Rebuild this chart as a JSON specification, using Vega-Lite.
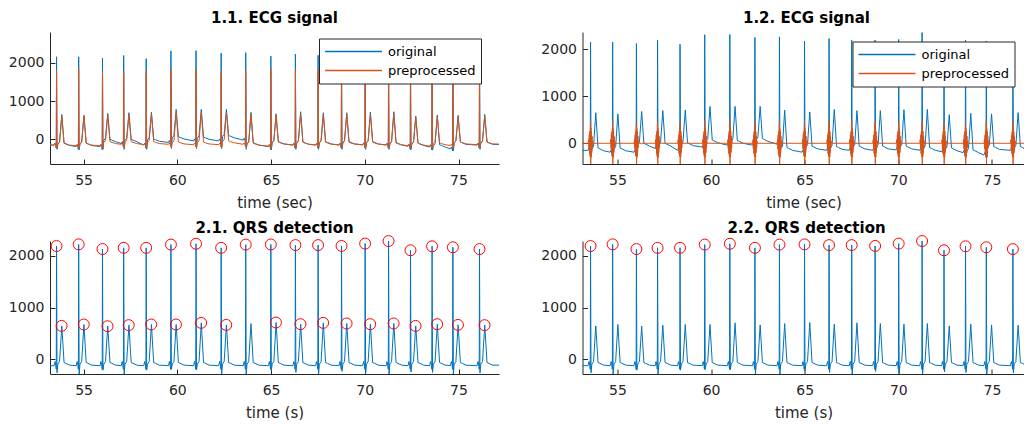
{
"$schema": "https://vega.github.io/schema/vega-lite/v6.json",
"background": "white",
"padding": {"left": 8, "top": 11, "right": 0, "bottom": 0},
"datasets": {
"ecg": [
{"t":53.1,"o":-150,"p":-150,"q":-120},
{"t":53.43,"o":-150,"p":-150,"q":-120},{"t":53.48,"o":-100,"p":-110,"q":-40},{"t":53.52,"o":-150,"p":-150,"q":-115},{"t":53.545,"o":-230,"p":-210,"q":-190},{"t":53.56,"o":2160,"p":1800,"q":2183},{"t":53.585,"o":-260,"p":-220,"q":-257},{"t":53.63,"o":-130,"p":-120,"q":-90},{"t":53.72,"o":-70,"p":-70,"q":-40},{"t":53.84,"o":650,"p":600,"q":646},{"t":53.96,"o":-100,"p":-100,"q":-60},{"t":54.06,"o":-120,"p":-120,"q":-75},{"t":54.26,"o":-160,"p":-150,"q":-110},
{"t":54.61,"o":-190,"p":-170,"q":-120},{"t":54.66,"o":-140,"p":-130,"q":-40},{"t":54.70,"o":-190,"p":-170,"q":-115},{"t":54.725,"o":-270,"p":-230,"q":-190},{"t":54.74,"o":2160,"p":1843,"q":2215},{"t":54.765,"o":-270,"p":-230,"q":-280},{"t":54.81,"o":-130,"p":-120,"q":-90},{"t":54.90,"o":-70,"p":-70,"q":-40},{"t":55.02,"o":627,"p":620,"q":673},{"t":55.14,"o":-100,"p":-100,"q":-60},{"t":55.24,"o":-120,"p":-120,"q":-75},{"t":55.44,"o":-160,"p":-150,"q":-110},
{"t":55.88,"o":-190,"p":-170,"q":-120},{"t":55.93,"o":-140,"p":-130,"q":-40},{"t":55.97,"o":-190,"p":-170,"q":-115},{"t":55.995,"o":-270,"p":-230,"q":-190},{"t":56.01,"o":2125,"p":1775,"q":2125},{"t":56.035,"o":-260,"p":-220,"q":-206},{"t":56.08,"o":-30,"p":-80,"q":-90},{"t":56.17,"o":30,"p":-30,"q":-40},{"t":56.29,"o":678,"p":630,"q":640},{"t":56.41,"o":0,"p":-60,"q":-60},{"t":56.51,"o":-20,"p":-80,"q":-75},{"t":56.71,"o":-60,"p":-110,"q":-110},
{"t":57.01,"o":-110,"p":-130,"q":-120},{"t":57.06,"o":-60,"p":-90,"q":-40},{"t":57.10,"o":-110,"p":-130,"q":-115},{"t":57.125,"o":-190,"p":-190,"q":-190},{"t":57.14,"o":2195,"p":1790,"q":2148},{"t":57.165,"o":-260,"p":-220,"q":-280},{"t":57.21,"o":-30,"p":-80,"q":-90},{"t":57.30,"o":30,"p":-30,"q":-40},{"t":57.42,"o":697,"p":650,"q":660},{"t":57.54,"o":0,"p":-60,"q":-60},{"t":57.64,"o":-20,"p":-80,"q":-75},{"t":57.84,"o":-60,"p":-110,"q":-110},
{"t":58.21,"o":-150,"p":-140,"q":-120},{"t":58.26,"o":-100,"p":-100,"q":-40},{"t":58.30,"o":-150,"p":-140,"q":-115},{"t":58.325,"o":-230,"p":-200,"q":-190},{"t":58.34,"o":2110,"p":1790,"q":2148},{"t":58.365,"o":-260,"p":-220,"q":-206},{"t":58.41,"o":-20,"p":-80,"q":-90},{"t":58.50,"o":40,"p":-30,"q":-40},{"t":58.62,"o":710,"p":660,"q":673},{"t":58.74,"o":10,"p":-60,"q":-60},{"t":58.84,"o":-10,"p":-80,"q":-75},{"t":59.04,"o":-50,"p":-110,"q":-110},
{"t":59.53,"o":-80,"p":-130,"q":-120},{"t":59.58,"o":-30,"p":-90,"q":-40},{"t":59.62,"o":-80,"p":-130,"q":-115},{"t":59.645,"o":-160,"p":-190,"q":-190},{"t":59.66,"o":2315,"p":1843,"q":2211},{"t":59.685,"o":-240,"p":-220,"q":-190},{"t":59.73,"o":40,"p":-90,"q":-90},{"t":59.82,"o":100,"p":-40,"q":-40},{"t":59.94,"o":783,"p":700,"q":673},{"t":60.06,"o":70,"p":-70,"q":-60},{"t":60.16,"o":50,"p":-90,"q":-75},{"t":60.36,"o":10,"p":-120,"q":-110},
{"t":60.87,"o":-40,"p":-140,"q":-120},{"t":60.92,"o":10,"p":-100,"q":-40},{"t":60.96,"o":-40,"p":-140,"q":-115},{"t":60.985,"o":-120,"p":-200,"q":-190},{"t":61.00,"o":2320,"p":1843,"q":2227},{"t":61.025,"o":-240,"p":-220,"q":-200},{"t":61.07,"o":30,"p":-90,"q":-90},{"t":61.16,"o":90,"p":-40,"q":-40},{"t":61.28,"o":786,"p":700,"q":704},{"t":61.40,"o":60,"p":-70,"q":-60},{"t":61.50,"o":40,"p":-90,"q":-75},{"t":61.70,"o":0,"p":-120,"q":-110},
{"t":62.21,"o":-40,"p":-140,"q":-120},{"t":62.26,"o":10,"p":-100,"q":-40},{"t":62.30,"o":-40,"p":-140,"q":-115},{"t":62.325,"o":-120,"p":-200,"q":-190},{"t":62.34,"o":2255,"p":1775,"q":2148},{"t":62.365,"o":-240,"p":-220,"q":-280},{"t":62.41,"o":70,"p":-60,"q":-90},{"t":62.50,"o":130,"p":-10,"q":-40},{"t":62.62,"o":786,"p":710,"q":665},{"t":62.74,"o":100,"p":-40,"q":-60},{"t":62.84,"o":80,"p":-60,"q":-75},{"t":63.04,"o":40,"p":-90,"q":-110},
{"t":63.52,"o":-20,"p":-130,"q":-120},{"t":63.57,"o":30,"p":-90,"q":-40},{"t":63.61,"o":-20,"p":-130,"q":-115},{"t":63.635,"o":-100,"p":-190,"q":-190},{"t":63.65,"o":2268,"p":1800,"q":2211},{"t":63.675,"o":-260,"p":-220,"q":-280},{"t":63.72,"o":-120,"p":-120,"q":-90},{"t":63.81,"o":-60,"p":-70,"q":-40},{"t":63.93,"o":705,"p":650,"q":690},{"t":64.05,"o":-90,"p":-100,"q":-60},{"t":64.15,"o":-110,"p":-120,"q":-75},{"t":64.35,"o":-150,"p":-150,"q":-110},
{"t":64.86,"o":-190,"p":-180,"q":-120},{"t":64.91,"o":-140,"p":-140,"q":-40},{"t":64.95,"o":-190,"p":-180,"q":-115},{"t":64.975,"o":-270,"p":-240,"q":-190},{"t":64.99,"o":2177,"p":1843,"q":2214},{"t":65.015,"o":-270,"p":-230,"q":-220},{"t":65.06,"o":-90,"p":-90,"q":-90},{"t":65.15,"o":-30,"p":-40,"q":-40},{"t":65.27,"o":668,"p":620,"q":711},{"t":65.39,"o":-60,"p":-70,"q":-60},{"t":65.49,"o":-80,"p":-90,"q":-75},{"t":65.69,"o":-120,"p":-120,"q":-110},
{"t":66.17,"o":-150,"p":-150,"q":-120},{"t":66.22,"o":-100,"p":-110,"q":-40},{"t":66.26,"o":-150,"p":-150,"q":-115},{"t":66.285,"o":-230,"p":-210,"q":-190},{"t":66.30,"o":2232,"p":1826,"q":2201},{"t":66.325,"o":-260,"p":-220,"q":-250},{"t":66.37,"o":-100,"p":-95,"q":-90},{"t":66.46,"o":-40,"p":-45,"q":-40},{"t":66.58,"o":722,"p":670,"q":679},{"t":66.70,"o":-70,"p":-75,"q":-60},{"t":66.80,"o":-90,"p":-95,"q":-75},{"t":67.00,"o":-130,"p":-125,"q":-110},
{"t":67.38,"o":-150,"p":-145,"q":-120},{"t":67.43,"o":-100,"p":-105,"q":-40},{"t":67.47,"o":-150,"p":-145,"q":-115},{"t":67.495,"o":-230,"p":-205,"q":-190},{"t":67.51,"o":2200,"p":1810,"q":2201},{"t":67.535,"o":-260,"p":-220,"q":-280},{"t":67.58,"o":-90,"p":-95,"q":-90},{"t":67.67,"o":-30,"p":-45,"q":-40},{"t":67.79,"o":696,"p":650,"q":704},{"t":67.91,"o":-60,"p":-75,"q":-60},{"t":68.01,"o":-80,"p":-95,"q":-75},{"t":68.21,"o":-120,"p":-125,"q":-110},
{"t":68.63,"o":-150,"p":-145,"q":-120},{"t":68.68,"o":-100,"p":-105,"q":-40},{"t":68.72,"o":-150,"p":-145,"q":-115},{"t":68.745,"o":-230,"p":-205,"q":-190},{"t":68.76,"o":2200,"p":1800,"q":2185},{"t":68.785,"o":-260,"p":-220,"q":-230},{"t":68.83,"o":-90,"p":-95,"q":-90},{"t":68.92,"o":-30,"p":-45,"q":-40},{"t":69.04,"o":696,"p":650,"q":692},{"t":69.16,"o":-60,"p":-75,"q":-60},{"t":69.26,"o":-80,"p":-95,"q":-75},{"t":69.46,"o":-120,"p":-125,"q":-110},
{"t":69.89,"o":-140,"p":-145,"q":-120},{"t":69.94,"o":-90,"p":-105,"q":-40},{"t":69.98,"o":-140,"p":-145,"q":-115},{"t":70.005,"o":-220,"p":-205,"q":-190},{"t":70.02,"o":2214,"p":1810,"q":2230},{"t":70.045,"o":-260,"p":-220,"q":-270},{"t":70.09,"o":-90,"p":-95,"q":-90},{"t":70.18,"o":-30,"p":-45,"q":-40},{"t":70.30,"o":714,"p":660,"q":679},{"t":70.42,"o":-60,"p":-75,"q":-60},{"t":70.52,"o":-80,"p":-95,"q":-75},{"t":70.72,"o":-120,"p":-125,"q":-110},
{"t":71.14,"o":-150,"p":-145,"q":-120},{"t":71.19,"o":-100,"p":-105,"q":-40},{"t":71.23,"o":-150,"p":-145,"q":-115},{"t":71.255,"o":-230,"p":-205,"q":-190},{"t":71.27,"o":2360,"p":1850,"q":2279},{"t":71.295,"o":-260,"p":-220,"q":-280},{"t":71.34,"o":-120,"p":-110,"q":-90},{"t":71.43,"o":-60,"p":-60,"q":-40},{"t":71.55,"o":722,"p":670,"q":692},{"t":71.67,"o":-90,"p":-90,"q":-60},{"t":71.77,"o":-110,"p":-110,"q":-75},{"t":71.97,"o":-150,"p":-140,"q":-110},
{"t":72.31,"o":-180,"p":-170,"q":-120},{"t":72.36,"o":-130,"p":-130,"q":-40},{"t":72.40,"o":-180,"p":-170,"q":-115},{"t":72.425,"o":-260,"p":-230,"q":-190},{"t":72.44,"o":2150,"p":1780,"q":2101},{"t":72.465,"o":-270,"p":-230,"q":-240},{"t":72.51,"o":-130,"p":-120,"q":-90},{"t":72.60,"o":-70,"p":-70,"q":-40},{"t":72.72,"o":610,"p":570,"q":646},{"t":72.84,"o":-100,"p":-100,"q":-60},{"t":72.94,"o":-120,"p":-120,"q":-75},{"t":73.14,"o":-160,"p":-150,"q":-110},
{"t":73.46,"o":-200,"p":-180,"q":-120},{"t":73.51,"o":-150,"p":-140,"q":-40},{"t":73.55,"o":-200,"p":-180,"q":-115},{"t":73.575,"o":-280,"p":-240,"q":-190},{"t":73.59,"o":2200,"p":1800,"q":2178},{"t":73.615,"o":-280,"p":-230,"q":-250},{"t":73.66,"o":-170,"p":-110,"q":-90},{"t":73.75,"o":-110,"p":-60,"q":-40},{"t":73.87,"o":636,"p":590,"q":679},{"t":73.99,"o":-140,"p":-90,"q":-60},{"t":74.09,"o":-160,"p":-110,"q":-75},{"t":74.29,"o":-200,"p":-140,"q":-110},
{"t":74.57,"o":-250,"p":-160,"q":-120},{"t":74.62,"o":-200,"p":-120,"q":-40},{"t":74.66,"o":-250,"p":-160,"q":-115},{"t":74.685,"o":-300,"p":-220,"q":-190},{"t":74.70,"o":2180,"p":1790,"q":2159},{"t":74.725,"o":-300,"p":-230,"q":-280},{"t":74.77,"o":-100,"p":-90,"q":-90},{"t":74.86,"o":-40,"p":-40,"q":-40},{"t":74.98,"o":627,"p":580,"q":665},{"t":75.10,"o":-70,"p":-70,"q":-60},{"t":75.20,"o":-90,"p":-90,"q":-75},{"t":75.40,"o":-130,"p":-120,"q":-110},
{"t":75.99,"o":-150,"p":-140,"q":-120},{"t":76.04,"o":-100,"p":-100,"q":-40},{"t":76.08,"o":-150,"p":-140,"q":-115},{"t":76.105,"o":-230,"p":-200,"q":-190},{"t":76.12,"o":2150,"p":1790,"q":2124},{"t":76.145,"o":-260,"p":-220,"q":-260},{"t":76.19,"o":-100,"p":-90,"q":-90},{"t":76.28,"o":-40,"p":-40,"q":-40},{"t":76.40,"o":653,"p":610,"q":660},{"t":76.52,"o":-70,"p":-70,"q":-60},{"t":76.62,"o":-90,"p":-90,"q":-75},{"t":76.82,"o":-130,"p":-120,"q":-110},
{"t":77.3,"o":-140,"p":-125,"q":-110}
],
"bp": [
{"t":53.0,"v":0},
{"t":53.44,"v":0},{"t":53.46,"v":80},{"t":53.475,"v":-120},{"t":53.49,"v":180},{"t":53.505,"v":-220},{"t":53.52,"v":250},{"t":53.535,"v":-280},{"t":53.548,"v":300},{"t":53.56,"v":470},{"t":53.57,"v":-440},{"t":53.582,"v":320},{"t":53.595,"v":-300},{"t":53.61,"v":250},{"t":53.625,"v":-200},{"t":53.64,"v":150},{"t":53.655,"v":-100},{"t":53.67,"v":50},{"t":53.685,"v":0},
{"t":54.62,"v":0},{"t":54.64,"v":80},{"t":54.655,"v":-120},{"t":54.67,"v":180},{"t":54.685,"v":-220},{"t":54.70,"v":250},{"t":54.715,"v":-280},{"t":54.728,"v":300},{"t":54.74,"v":470},{"t":54.75,"v":-440},{"t":54.762,"v":320},{"t":54.775,"v":-300},{"t":54.79,"v":250},{"t":54.805,"v":-200},{"t":54.82,"v":150},{"t":54.835,"v":-100},{"t":54.85,"v":50},{"t":54.865,"v":0},
{"t":55.89,"v":0},{"t":55.91,"v":80},{"t":55.925,"v":-120},{"t":55.94,"v":180},{"t":55.955,"v":-220},{"t":55.97,"v":250},{"t":55.985,"v":-280},{"t":55.998,"v":300},{"t":56.01,"v":440},{"t":56.02,"v":-440},{"t":56.032,"v":320},{"t":56.045,"v":-300},{"t":56.06,"v":250},{"t":56.075,"v":-200},{"t":56.09,"v":150},{"t":56.105,"v":-100},{"t":56.12,"v":50},{"t":56.135,"v":0},
{"t":57.02,"v":0},{"t":57.04,"v":80},{"t":57.055,"v":-120},{"t":57.07,"v":180},{"t":57.085,"v":-220},{"t":57.10,"v":250},{"t":57.115,"v":-280},{"t":57.128,"v":300},{"t":57.14,"v":470},{"t":57.15,"v":-440},{"t":57.162,"v":320},{"t":57.175,"v":-300},{"t":57.19,"v":250},{"t":57.205,"v":-200},{"t":57.22,"v":150},{"t":57.235,"v":-100},{"t":57.25,"v":50},{"t":57.265,"v":0},
{"t":58.22,"v":0},{"t":58.24,"v":80},{"t":58.255,"v":-120},{"t":58.27,"v":180},{"t":58.285,"v":-220},{"t":58.30,"v":250},{"t":58.315,"v":-280},{"t":58.328,"v":300},{"t":58.34,"v":450},{"t":58.35,"v":-440},{"t":58.362,"v":320},{"t":58.375,"v":-300},{"t":58.39,"v":250},{"t":58.405,"v":-200},{"t":58.42,"v":150},{"t":58.435,"v":-100},{"t":58.45,"v":50},{"t":58.465,"v":0},
{"t":59.54,"v":0},{"t":59.56,"v":80},{"t":59.575,"v":-120},{"t":59.59,"v":180},{"t":59.605,"v":-220},{"t":59.62,"v":250},{"t":59.635,"v":-280},{"t":59.648,"v":300},{"t":59.66,"v":480},{"t":59.67,"v":-440},{"t":59.682,"v":320},{"t":59.695,"v":-300},{"t":59.71,"v":250},{"t":59.725,"v":-200},{"t":59.74,"v":150},{"t":59.755,"v":-100},{"t":59.77,"v":50},{"t":59.785,"v":0},
{"t":60.88,"v":0},{"t":60.90,"v":80},{"t":60.915,"v":-120},{"t":60.93,"v":180},{"t":60.945,"v":-220},{"t":60.96,"v":250},{"t":60.975,"v":-280},{"t":60.988,"v":300},{"t":61.00,"v":480},{"t":61.01,"v":-440},{"t":61.022,"v":320},{"t":61.035,"v":-300},{"t":61.05,"v":250},{"t":61.065,"v":-200},{"t":61.08,"v":150},{"t":61.095,"v":-100},{"t":61.11,"v":50},{"t":61.125,"v":0},
{"t":62.22,"v":0},{"t":62.24,"v":80},{"t":62.255,"v":-120},{"t":62.27,"v":180},{"t":62.285,"v":-220},{"t":62.30,"v":250},{"t":62.315,"v":-280},{"t":62.328,"v":300},{"t":62.34,"v":460},{"t":62.35,"v":-440},{"t":62.362,"v":320},{"t":62.375,"v":-300},{"t":62.39,"v":250},{"t":62.405,"v":-200},{"t":62.42,"v":150},{"t":62.435,"v":-100},{"t":62.45,"v":50},{"t":62.465,"v":0},
{"t":63.53,"v":0},{"t":63.55,"v":80},{"t":63.565,"v":-120},{"t":63.58,"v":180},{"t":63.595,"v":-220},{"t":63.61,"v":250},{"t":63.625,"v":-280},{"t":63.638,"v":300},{"t":63.65,"v":470},{"t":63.66,"v":-440},{"t":63.672,"v":320},{"t":63.685,"v":-300},{"t":63.70,"v":250},{"t":63.715,"v":-200},{"t":63.73,"v":150},{"t":63.745,"v":-100},{"t":63.76,"v":50},{"t":63.775,"v":0},
{"t":64.87,"v":0},{"t":64.89,"v":80},{"t":64.905,"v":-120},{"t":64.92,"v":180},{"t":64.935,"v":-220},{"t":64.95,"v":250},{"t":64.965,"v":-280},{"t":64.978,"v":300},{"t":64.99,"v":470},{"t":65.00,"v":-440},{"t":65.012,"v":320},{"t":65.025,"v":-300},{"t":65.04,"v":250},{"t":65.055,"v":-200},{"t":65.07,"v":150},{"t":65.085,"v":-100},{"t":65.10,"v":50},{"t":65.115,"v":0},
{"t":66.18,"v":0},{"t":66.20,"v":80},{"t":66.215,"v":-120},{"t":66.23,"v":180},{"t":66.245,"v":-220},{"t":66.26,"v":250},{"t":66.275,"v":-280},{"t":66.288,"v":300},{"t":66.30,"v":470},{"t":66.31,"v":-440},{"t":66.322,"v":320},{"t":66.335,"v":-300},{"t":66.35,"v":250},{"t":66.365,"v":-200},{"t":66.38,"v":150},{"t":66.395,"v":-100},{"t":66.41,"v":50},{"t":66.425,"v":0},
{"t":67.39,"v":0},{"t":67.41,"v":80},{"t":67.425,"v":-120},{"t":67.44,"v":180},{"t":67.455,"v":-220},{"t":67.47,"v":250},{"t":67.485,"v":-280},{"t":67.498,"v":300},{"t":67.51,"v":480},{"t":67.52,"v":-440},{"t":67.532,"v":320},{"t":67.545,"v":-300},{"t":67.56,"v":250},{"t":67.575,"v":-200},{"t":67.59,"v":150},{"t":67.605,"v":-100},{"t":67.62,"v":50},{"t":67.635,"v":0},
{"t":68.64,"v":0},{"t":68.66,"v":80},{"t":68.675,"v":-120},{"t":68.69,"v":180},{"t":68.705,"v":-220},{"t":68.72,"v":250},{"t":68.735,"v":-280},{"t":68.748,"v":300},{"t":68.76,"v":470},{"t":68.77,"v":-440},{"t":68.782,"v":320},{"t":68.795,"v":-300},{"t":68.81,"v":250},{"t":68.825,"v":-200},{"t":68.84,"v":150},{"t":68.855,"v":-100},{"t":68.87,"v":50},{"t":68.885,"v":0},
{"t":69.90,"v":0},{"t":69.92,"v":80},{"t":69.935,"v":-120},{"t":69.95,"v":180},{"t":69.965,"v":-220},{"t":69.98,"v":250},{"t":69.995,"v":-280},{"t":70.008,"v":300},{"t":70.02,"v":470},{"t":70.03,"v":-440},{"t":70.042,"v":320},{"t":70.055,"v":-300},{"t":70.07,"v":250},{"t":70.085,"v":-200},{"t":70.10,"v":150},{"t":70.115,"v":-100},{"t":70.13,"v":50},{"t":70.145,"v":0},
{"t":71.15,"v":0},{"t":71.17,"v":80},{"t":71.185,"v":-120},{"t":71.20,"v":180},{"t":71.215,"v":-220},{"t":71.23,"v":250},{"t":71.245,"v":-280},{"t":71.258,"v":300},{"t":71.27,"v":480},{"t":71.28,"v":-440},{"t":71.292,"v":320},{"t":71.305,"v":-300},{"t":71.32,"v":250},{"t":71.335,"v":-200},{"t":71.35,"v":150},{"t":71.365,"v":-100},{"t":71.38,"v":50},{"t":71.395,"v":0},
{"t":72.32,"v":0},{"t":72.34,"v":80},{"t":72.355,"v":-120},{"t":72.37,"v":180},{"t":72.385,"v":-220},{"t":72.40,"v":250},{"t":72.415,"v":-280},{"t":72.428,"v":300},{"t":72.44,"v":440},{"t":72.45,"v":-440},{"t":72.462,"v":320},{"t":72.475,"v":-300},{"t":72.49,"v":250},{"t":72.505,"v":-200},{"t":72.52,"v":150},{"t":72.535,"v":-100},{"t":72.55,"v":50},{"t":72.565,"v":0},
{"t":73.47,"v":0},{"t":73.49,"v":80},{"t":73.505,"v":-120},{"t":73.52,"v":180},{"t":73.535,"v":-220},{"t":73.55,"v":250},{"t":73.565,"v":-280},{"t":73.578,"v":300},{"t":73.59,"v":470},{"t":73.60,"v":-440},{"t":73.612,"v":320},{"t":73.625,"v":-300},{"t":73.64,"v":250},{"t":73.655,"v":-200},{"t":73.67,"v":150},{"t":73.685,"v":-100},{"t":73.70,"v":50},{"t":73.715,"v":0},
{"t":74.58,"v":0},{"t":74.60,"v":80},{"t":74.615,"v":-120},{"t":74.63,"v":180},{"t":74.645,"v":-220},{"t":74.66,"v":250},{"t":74.675,"v":-280},{"t":74.688,"v":300},{"t":74.70,"v":470},{"t":74.71,"v":-440},{"t":74.722,"v":320},{"t":74.735,"v":-300},{"t":74.75,"v":250},{"t":74.765,"v":-200},{"t":74.78,"v":150},{"t":74.795,"v":-100},{"t":74.81,"v":50},{"t":74.825,"v":0},
{"t":76.00,"v":0},{"t":76.02,"v":80},{"t":76.035,"v":-120},{"t":76.05,"v":180},{"t":76.065,"v":-220},{"t":76.08,"v":250},{"t":76.095,"v":-280},{"t":76.108,"v":300},{"t":76.12,"v":460},{"t":76.13,"v":-440},{"t":76.142,"v":320},{"t":76.155,"v":-300},{"t":76.17,"v":250},{"t":76.185,"v":-200},{"t":76.20,"v":150},{"t":76.215,"v":-100},{"t":76.23,"v":50},{"t":76.245,"v":0},
{"t":77.3,"v":0}
],
"det": [
{"t":53.56,"v":2183,"k":"R"},{"t":54.74,"v":2215,"k":"R"},{"t":56.01,"v":2125,"k":"R"},{"t":57.14,"v":2148,"k":"R"},{"t":58.34,"v":2148,"k":"R"},{"t":59.66,"v":2211,"k":"R"},{"t":61.00,"v":2227,"k":"R"},{"t":62.34,"v":2148,"k":"R"},{"t":63.65,"v":2211,"k":"R"},{"t":64.99,"v":2214,"k":"R"},{"t":66.30,"v":2201,"k":"R"},{"t":67.51,"v":2201,"k":"R"},{"t":68.76,"v":2185,"k":"R"},{"t":70.02,"v":2230,"k":"R"},{"t":71.27,"v":2279,"k":"R"},{"t":72.44,"v":2101,"k":"R"},{"t":73.59,"v":2178,"k":"R"},{"t":74.70,"v":2159,"k":"R"},{"t":76.12,"v":2124,"k":"R"},
{"t":53.83,"v":646,"k":"T"},{"t":55.01,"v":673,"k":"T"},{"t":56.28,"v":640,"k":"T"},{"t":57.41,"v":660,"k":"T"},{"t":58.61,"v":673,"k":"T"},{"t":59.93,"v":673,"k":"T"},{"t":61.27,"v":704,"k":"T"},{"t":62.61,"v":665,"k":"T"},{"t":65.26,"v":711,"k":"T"},{"t":66.57,"v":679,"k":"T"},{"t":67.78,"v":704,"k":"T"},{"t":69.03,"v":692,"k":"T"},{"t":70.29,"v":679,"k":"T"},{"t":71.54,"v":692,"k":"T"},{"t":72.71,"v":646,"k":"T"},{"t":73.86,"v":679,"k":"T"},{"t":74.97,"v":665,"k":"T"},{"t":76.39,"v":660,"k":"T"}
]
},
"config": {
"font": "DejaVu Sans",
"view": {"stroke": null},
"axis": {"grid": false, "domainColor": "#262626", "tickColor": "#262626", "labelColor": "#262626", "titleColor": "#262626", "labelFontSize": 14, "titleFontSize": 15, "titleFontWeight": "normal", "tickSize": -5, "domainWidth": 1, "tickWidth": 1, "labelFont": "DejaVu Sans", "titleFont": "DejaVu Sans"},
"axisX": {"labelPadding": 14.5, "titlePadding": 7.5},
"axisY": {"labelPadding": 11},
"title": {"fontSize": 15, "fontWeight": "bold", "color": "#000000", "font": "DejaVu Sans", "offset": 6, "baseline": "alphabetic", "anchor": "middle"},
"legend": {"labelFont": "DejaVu Sans"}
},
"spacing": 10,
"resolve": {"scale": {"x": "independent", "y": "independent", "color": "independent"}, "legend": {"color": "independent"}},
"vconcat": [
{
"spacing": 41.5,
"resolve": {"scale": {"x": "independent", "y": "independent", "color": "independent"}, "legend": {"color": "independent"}},
"hconcat": [
{
"width": 449, "height": 132,
"title": {"text": "1.1. ECG signal"},
"data": {"name": "ecg"},
"encoding": {"x": {"field": "t", "type": "quantitative", "scale": {"domain": [53.21, 77.16], "nice": false, "zero": false}, "axis": {"values": [55, 60, 65, 70, 75], "title": "time (sec)"}}},
"layer": [
{"mark": {"type": "line", "clip": true, "strokeWidth": 1}, "encoding": {"y": {"field": "o", "type": "quantitative", "scale": {"domain": [-645, 2809], "nice": false, "zero": false}, "axis": {"values": [0, 1000, 2000], "format": "d", "title": null}}, "color": {"datum": "original", "type": "nominal", "scale": {"domain": ["original", "preprocessed"], "range": ["#0072BD", "#D95319"]}, "legend": {"orient": "none", "legendX": 269, "legendY": 6.5, "title": null, "symbolType": "stroke", "symbolSize": 3240, "symbolStrokeWidth": 1.3, "clipHeight": 16, "rowPadding": 3, "labelFontSize": 13, "labelColor": "#000000", "labelOffset": 5, "padding": 5, "strokeColor": "#262626", "fillColor": "#ffffff"}}}},
{"mark": {"type": "line", "clip": true, "strokeWidth": 1}, "encoding": {"y": {"field": "p", "type": "quantitative", "axis": {"values": [0, 1000, 2000], "format": "d", "title": null}}, "color": {"datum": "preprocessed", "type": "nominal"}}}
]
},
{
"width": 442, "height": 132,
"title": {"text": "1.2. ECG signal", "dx": 3},
"encoding": {"x": {"field": "t", "type": "quantitative", "scale": {"domain": [53.13, 76.74], "nice": false, "zero": false}, "axis": {"values": [55, 60, 65, 70, 75], "title": "time (sec)"}}},
"layer": [
{"data": {"name": "ecg"}, "mark": {"type": "line", "clip": true, "strokeWidth": 1}, "encoding": {"y": {"field": "o", "type": "quantitative", "scale": {"domain": [-442, 2372], "nice": false, "zero": false}, "axis": {"values": [0, 1000, 2000], "format": "d", "title": null}}, "color": {"datum": "original", "type": "nominal", "scale": {"domain": ["original", "preprocessed"], "range": ["#0072BD", "#D95319"]}, "legend": {"orient": "none", "legendX": 270, "legendY": 9.5, "title": null, "symbolType": "stroke", "symbolSize": 3240, "symbolStrokeWidth": 1.3, "clipHeight": 16, "rowPadding": 3, "labelFontSize": 13, "labelColor": "#000000", "labelOffset": 5, "padding": 5, "strokeColor": "#262626", "fillColor": "#ffffff"}}}},
{"data": {"name": "bp"}, "mark": {"type": "line", "clip": true, "strokeWidth": 1}, "encoding": {"y": {"field": "v", "type": "quantitative", "axis": {"values": [0, 1000, 2000], "format": "d", "title": null}}, "color": {"datum": "preprocessed", "type": "nominal"}}}
]
}
]
},
{
"spacing": 41.5,
"resolve": {"scale": {"x": "independent", "y": "independent"}},
"hconcat": [
{
"width": 449, "height": 133,
"title": {"text": "2.1. QRS detection", "offset": -2},
"encoding": {"x": {"field": "t", "type": "quantitative", "scale": {"domain": [53.21, 77.16], "nice": false, "zero": false}, "axis": {"values": [55, 60, 65, 70, 75], "title": "time (s)"}}},
"layer": [
{"data": {"name": "ecg"}, "mark": {"type": "line", "clip": true, "strokeWidth": 1, "color": "#0072BD"}, "encoding": {"y": {"field": "q", "type": "quantitative", "scale": {"domain": [-280, 2280], "nice": false, "zero": false}, "axis": {"values": [0, 1000, 2000], "format": "d", "title": null}}}},
{"data": {"name": "det"}, "mark": {"type": "point", "shape": "circle", "filled": false, "color": "#FF0000", "size": 120, "strokeWidth": 1, "opacity": 1, "clip": false}, "encoding": {"y": {"field": "v", "type": "quantitative", "axis": {"values": [0, 1000, 2000], "format": "d", "title": null}}}}
]
},
{
"width": 442, "height": 133,
"title": {"text": "2.2. QRS detection", "dx": 3, "offset": -2},
"encoding": {"x": {"field": "t", "type": "quantitative", "scale": {"domain": [53.13, 76.74], "nice": false, "zero": false}, "axis": {"values": [55, 60, 65, 70, 75], "title": "time (s)"}}},
"layer": [
{"data": {"name": "ecg"}, "mark": {"type": "line", "clip": true, "strokeWidth": 1, "color": "#0072BD"}, "encoding": {"y": {"field": "q", "type": "quantitative", "scale": {"domain": [-280, 2280], "nice": false, "zero": false}, "axis": {"values": [0, 1000, 2000], "format": "d", "title": null}}}},
{"data": {"name": "det"}, "transform": [{"filter": "datum.k == 'R'"}], "mark": {"type": "point", "shape": "circle", "filled": false, "color": "#FF0000", "size": 120, "strokeWidth": 1, "opacity": 1, "clip": false}, "encoding": {"y": {"field": "v", "type": "quantitative", "axis": {"values": [0, 1000, 2000], "format": "d", "title": null}}}}
]
}
]
}
]
}
